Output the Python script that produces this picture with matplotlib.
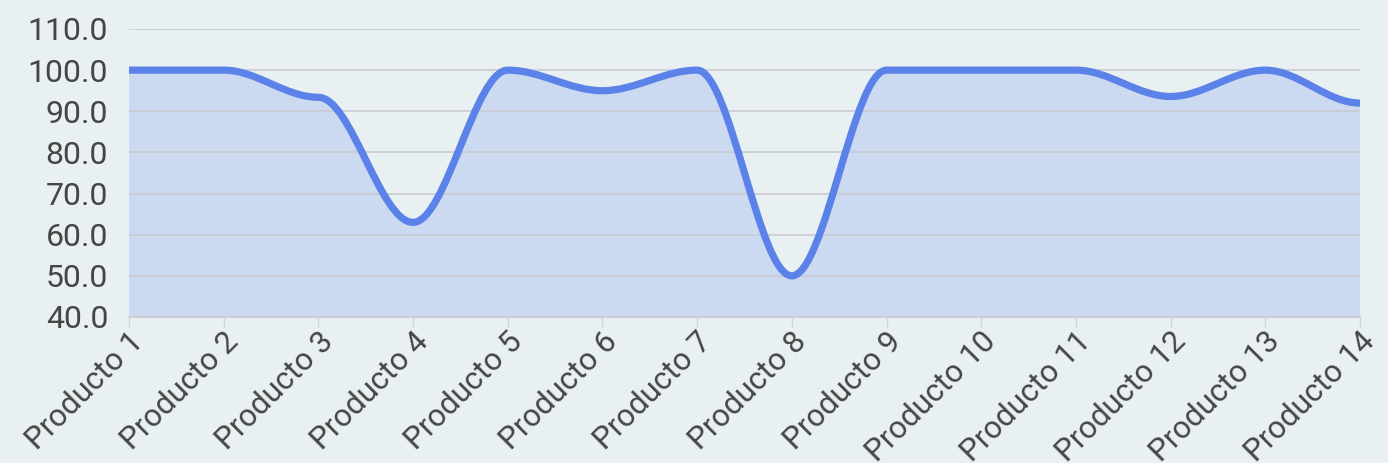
import numpy as np
import matplotlib
matplotlib.use("Agg")
import matplotlib.pyplot as plt
from matplotlib.path import Path
from matplotlib.patches import PathPatch

plt.rcParams['font.family'] = ['Roboto', 'DejaVu Sans']

# data
products = ["Producto %d" % i for i in range(1, 15)]
values = [100, 100, 93.4, 63, 100, 95, 100, 50, 100, 100, 100, 93.6, 100, 92]
y_ticks = [40, 50, 60, 70, 80, 90, 100, 110]

bg_color = "#e8f0f1"
fill_color = "#cbdaf1"
line_color = "#5b82e9"
grid_color = "#c9c9d2"
text_color = "#454545"


def smooth_path(x, y, k=0.35):
    # smooth curve with flat handles at each point (control points at 35% of the step)
    verts = [(x[0], y[0])]
    codes = [Path.MOVETO]
    for i in range(len(x) - 1):
        d = (x[i + 1] - x[i]) * k
        verts += [(x[i] + d, y[i]), (x[i + 1] - d, y[i + 1]), (x[i + 1], y[i + 1])]
        codes += [Path.CURVE4] * 3
    return verts, codes


fig = plt.figure(figsize=(13.88, 4.63), dpi=100, facecolor=bg_color)
ax = fig.add_axes([129 / 1388, 1 - 317 / 463, (1360 - 129) / 1388, (317 - 29) / 463])
ax.set_facecolor(bg_color)

x = list(range(len(products)))
verts, codes = smooth_path(x, values)

# filled area under the curve
fill_verts = verts + [(x[-1], 40), (x[0], 40), (x[0], values[0])]
fill_codes = codes + [Path.LINETO, Path.LINETO, Path.CLOSEPOLY]
ax.add_patch(PathPatch(Path(fill_verts, fill_codes), facecolor=fill_color,
                       edgecolor="none", zorder=1))
ax.add_patch(PathPatch(Path(verts, codes), facecolor="none", edgecolor=line_color,
                       lw=5.2, capstyle="butt", joinstyle="round", zorder=3))

ax.set_xlim(0, len(products) - 1)
ax.set_ylim(40, 110)
ax.set_yticks(y_ticks)
ax.set_yticklabels(["%.1f" % v for v in y_ticks])
ax.set_xticks(x)
ax.set_xticklabels(products, rotation=45, ha="right", va="top", rotation_mode="anchor")

ax.grid(axis="y", color=grid_color, lw=1.2, zorder=2)
ax.set_axisbelow(False)
for s in ["left", "right", "top"]:
    ax.spines[s].set_visible(False)
ax.spines["bottom"].set_color(grid_color)
ax.spines["bottom"].set_linewidth(1.2)

ax.tick_params(axis="y", length=0, pad=15, labelsize=23, labelcolor=text_color)
ax.tick_params(axis="x", length=7, width=1, color="#d4d4d8", pad=0,
               labelsize=22.5, labelcolor=text_color)

fig.savefig("out.png", dpi=100, facecolor=bg_color)
